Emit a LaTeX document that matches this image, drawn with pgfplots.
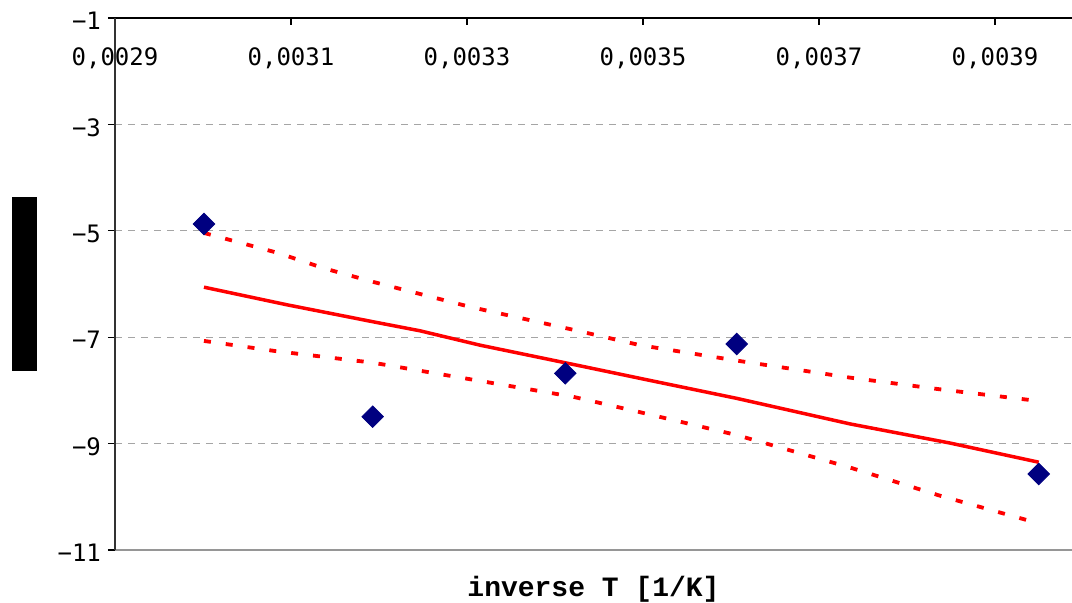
\documentclass[border=0pt]{standalone}
\usepackage{pgfplots}
\pgfplotsset{compat=1.18}
\usepackage{fontspec}
\setmainfont{DejaVu Sans}
\newfontfamily\tickfont{DejaVu Sans Mono}
\newfontfamily\labelfont{Liberation Mono}
\definecolor{navyblue}{RGB}{0,0,128}
\definecolor{gridgray}{RGB}{165,165,165}
\definecolor{botgray}{RGB}{150,150,150}
\begin{document}
\begin{tikzpicture}
\useasboundingbox (0,0) rectangle (536pt,301.5pt);
\begin{axis}[
  at={(57.5pt,26.5pt)}, anchor=south west,
  scale only axis, width=478.5pt, height=266pt,
  xmin=0.0029, xmax=0.0039875, ymin=-11, ymax=-1,
  clip=false,
  scaled x ticks=false,
  axis line style={draw=none},
  xtick={0.0029,0.0031,0.0033,0.0035,0.0037,0.0039},
  xticklabels={{0,0029},{0,0031},{0,0033},{0,0035},{0,0037},{0,0039}},
  ytick={-11,-9,-7,-5,-3,-1},
  yticklabels={−11,−9,−7,−5,−3,−1},
  xtick pos=right, xticklabel pos=right,
  ytick pos=left,
  xtick align=inside, ytick align=outside,
  major tick length=3.5pt,
  tick style={black, line width=0.6pt},
  tick label style={font=\tickfont\fontsize{12}{14}\selectfont},
  xticklabel style={anchor=base, yshift=-24pt},
  yticklabel style={anchor=east, yshift=-1.5pt},
  ymajorgrids,
  grid style={gridgray, line width=0.5pt, dash pattern=on 3.5pt off 3pt},
  xlabel={\labelfont\bfseries inverse T [1/K]},
  xlabel style={font=\fontsize{14}{16}\selectfont, at={(rel axis cs:0.5,0)}, anchor=base, yshift=-23.5pt},
  ylabel={\rule{87pt}{12.5pt}},
  ylabel style={at={(rel axis cs:0,0.5)}, anchor=center, yshift=45.25pt},
]
\draw[botgray, line width=1pt] (rel axis cs:0,0) -- (rel axis cs:1,0);
\draw[black, line width=0.75pt] (rel axis cs:0,1) -- (rel axis cs:1,1);
\draw[black!80, line width=0.75pt] (rel axis cs:0,0) -- (rel axis cs:0,1);

% upper band
\addplot[red, line width=1.9pt, dash pattern=on 3.5pt off 7.5pt] coordinates {
(0.0030011,-5.04) (0.003086,-5.42) (0.0031364,-5.70) (0.0031932,-5.96)
(0.0033034,-6.43) (0.0034205,-6.86) (0.0034966,-7.15) (0.0036065,-7.44)
(0.0037352,-7.76) (0.0038375,-7.98) (0.0039497,-8.20)};
% lower band
\addplot[red, line width=1.9pt, dash pattern=on 3.5pt off 7.5pt] coordinates {
(0.0030011,-7.07) (0.0030818,-7.26) (0.0031932,-7.48) (0.0033034,-7.79)
(0.0034205,-8.12) (0.0034966,-8.41) (0.0036065,-8.84) (0.0037352,-9.45)
(0.0038375,-9.98) (0.0039497,-10.50)};
% fit
\addplot[red, line width=1.75pt, line join=round] coordinates {
(0.0030011,-6.06) (0.0030951,-6.39) (0.0031932,-6.71) (0.0032466,-6.88)
(0.0033148,-7.15) (0.0034318,-7.55) (0.0035042,-7.80) (0.0036065,-8.15)
(0.0037352,-8.63) (0.0038489,-8.99) (0.0039497,-9.35)};
% data
\addplot[only marks, mark=square*, mark size=3.8pt,
  mark options={rotate=45, fill=navyblue, draw=navyblue}] coordinates {
(0.0030011,-4.872) (0.0031928,-8.494) (0.0034117,-7.679)
(0.0036065,-7.128) (0.0039497,-9.571)};
\end{axis}
\end{tikzpicture}
\end{document}
